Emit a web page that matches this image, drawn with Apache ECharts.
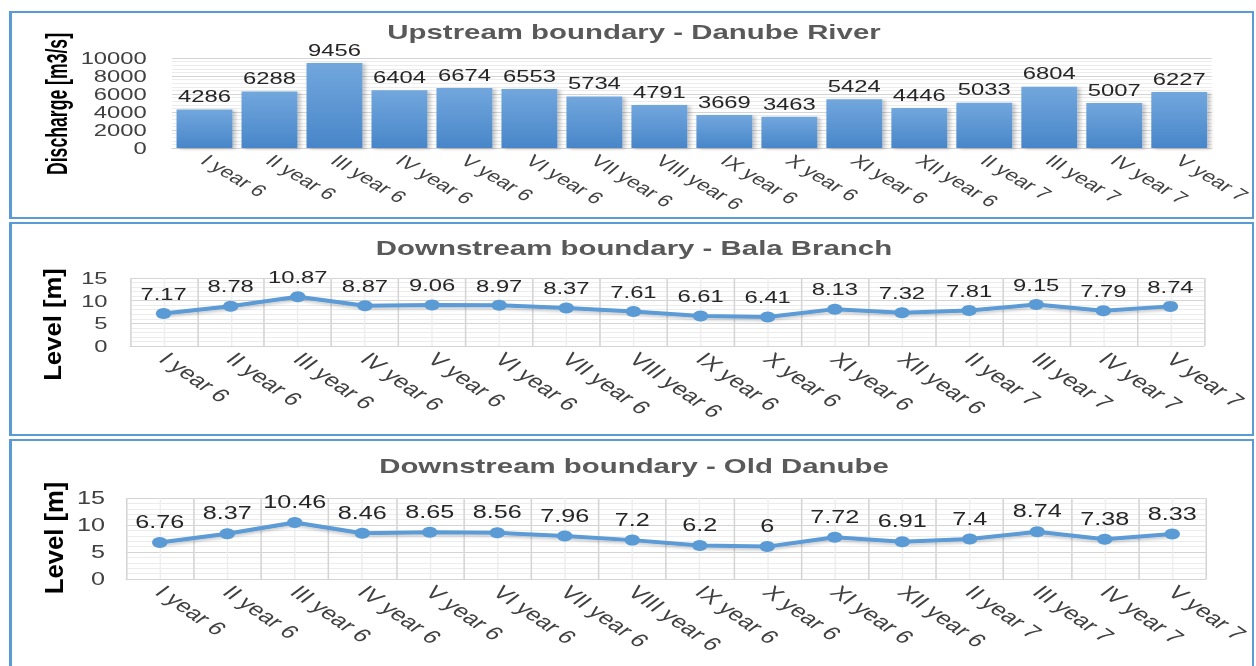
<!DOCTYPE html>
<html>
<head>
<meta charset="utf-8">
<title>Danube boundaries</title>
<script src="https://cdn.jsdelivr.net/npm/echarts@6/dist/echarts.min.js"></script>
<style>
  html, body { margin: 0; padding: 0; background: #fff; }
  #page { position: relative; width: 1256px; height: 666px; overflow: hidden; }
  .panel { position: absolute; left: 9px; width: 1245px; border: 2px solid #5b9bd5; border-left-width: 3px; box-sizing: border-box; background: #fff; }
  /* the source picture is stretched sideways, so the chart is drawn narrow and scaled */
  #main { position: absolute; left: 0; top: 0; width: 897px; height: 666px; transform-origin: 0 0; transform: scaleX(1.40022); }
</style>
</head>
<body>
<div id="page">
  <div class="panel" style="top:11px;height:208px"></div>
  <div class="panel" style="top:222px;height:214px"></div>
  <div class="panel" style="top:439px;height:240px"></div>
  <div id="main"></div>
</div>
<script>
const categories = ['I year 6', 'II year 6', 'III year 6', 'IV year 6', 'V year 6', 'VI year 6',
  'VII year 6', 'VIII year 6', 'IX year 6', 'X year 6', 'XI year 6', 'XII year 6',
  'II year 7', 'III year 7', 'IV year 7', 'V year 7']
const discharge = [4286, 6288, 9456, 6404, 6674, 6553, 5734, 4791, 3669, 3463, 5424, 4446, 5033, 6804, 5007, 6227]
const balaBranch = [7.17, 8.78, 10.87, 8.87, 9.06, 8.97, 8.37, 7.61, 6.61, 6.41, 8.13, 7.32, 7.81, 9.15, 7.79, 8.74]
const oldDanube = [6.76, 8.37, 10.46, 8.46, 8.65, 8.56, 7.96, 7.2, 6.2, 6, 7.72, 6.91, 7.4, 8.74, 7.38, 8.33]
const titles = ['Upstream boundary - Danube River', 'Downstream boundary - Bala Branch', 'Downstream boundary - Old Danube']

const SX = 1256 / 897
const px = x => x / SX // page x -> chart x
const FONT = 'Liberation Sans'
const LABEL = '#404040'
const BLUE = '#5b9bd5'

const chart = echarts.init(document.getElementById('main'), null, { renderer: 'svg' })

function catAxis(gridIndex, split, fontSize, rotate) {
  return {
    type: 'category',
    gridIndex: gridIndex,
    data: categories,
    z: 1,
    axisTick: { show: false },
    axisLine: { lineStyle: { color: '#d4d4d4' } },
    axisLabel: { rotate: rotate, fontSize: fontSize, color: LABEL, margin: 10, interval: 0, hideOverlap: false },
    splitLine: { show: split, lineStyle: { color: '#d4d4d4' } }
  }
}

function minorAxis(gridIndex) {
  // only used for the light vertical lines through the category centres
  return {
    type: 'value',
    gridIndex: gridIndex,
    min: 0,
    max: 16,
    interval: 0.5,
    z: 0,
    axisLabel: { show: false },
    axisLine: { show: false },
    axisTick: { show: false },
    splitLine: { show: true, lineStyle: { color: '#ededed' } }
  }
}

function valAxis(gridIndex, max, interval, margin, fontSize) {
  return {
    type: 'value',
    gridIndex: gridIndex,
    min: 0,
    max: max,
    interval: interval,
    axisLine: { show: false },
    axisTick: { show: false },
    axisLabel: { fontSize: fontSize, color: LABEL, margin: margin, formatter: v => String(v) },
    splitLine: { lineStyle: { color: '#d4d4d4' } },
    minorTick: { show: false, splitNumber: 5 },
    minorSplitLine: { show: true, lineStyle: { color: '#ececec' } }
  }
}

function lineSeries(idx, data, fontSize) {
  return {
    type: 'line',
    xAxisIndex: idx,
    yAxisIndex: idx,
    data: data,
    symbol: 'circle',
    symbolSize: 11,
    lineStyle: { width: 4, color: BLUE, shadowColor: 'rgba(0,0,0,0.2)', shadowBlur: 3, shadowOffsetY: 2 },
    itemStyle: { color: BLUE },
    label: { show: true, position: 'top', distance: 6, fontSize: fontSize, color: '#262626' }
  }
}

function titleAt(i, top) {
  return {
    text: titles[i],
    left: px(634),
    top: top,
    padding: 0,
    textAlign: 'center',
    textStyle: { fontSize: 21, fontWeight: 'bold', color: '#595959', fontFamily: FONT }
  }
}

function sideTitle(text, x, y, size, stretch) {
  return {
    type: 'text',
    x: px(x),
    y: y,
    rotation: Math.PI / 2,
    scaleX: stretch,
    style: {
      text: text,
      font: 'bold ' + size + 'px "' + FONT + '"',
      fill: '#000',
      align: 'center',
      verticalAlign: 'middle',
      textAlign: 'center',
      textVerticalAlign: 'middle'
    }
  }
}

chart.setOption({
  animation: false,
  textStyle: { fontFamily: FONT },
  title: [titleAt(0, 21), titleAt(1, 237), titleAt(2, 455)],
  grid: [
    { left: px(172), width: px(1041), top: 58, height: 90 },
    { left: px(130), width: px(1074), top: 278, height: 68 },
    { left: px(126), width: px(1080), top: 498, height: 81 }
  ],
  xAxis: [catAxis(0, false, 16.5, -40), catAxis(1, true, 18.5, -44), catAxis(2, true, 18.5, -44), minorAxis(1), minorAxis(2)],
  yAxis: [valAxis(0, 10000, 2000, 18, 17), valAxis(1, 15, 5, 16, 17), valAxis(2, 15, 5, 15, 18)],
  graphic: [
    sideTitle('Discharge [m3/s]', 56.7, 104, 21.5, 0.82),
    sideTitle('Level [m]', 52.5, 324.5, 17, 1.51),
    sideTitle('Level [m]', 54, 538, 19, 1.35)
  ],
  series: [
    {
      type: 'bar',
      xAxisIndex: 0,
      yAxisIndex: 0,
      data: discharge,
      barCategoryGap: '14%',
      itemStyle: {
        color: new echarts.graphic.LinearGradient(0, 0, 0, 1, [
          { offset: 0, color: '#72a7dd' },
          { offset: 1, color: '#4886c9' }
        ]),
        shadowColor: 'rgba(0,0,0,0.25)',
        shadowBlur: 3,
        shadowOffsetX: 2,
        shadowOffsetY: 1
      },
      label: { show: true, position: 'top', distance: 5, fontSize: 17, color: '#262626' }
    },
    lineSeries(1, balaBranch, 17),
    lineSeries(2, oldDanube, 18)
  ]
})
</script>
</body>
</html>
